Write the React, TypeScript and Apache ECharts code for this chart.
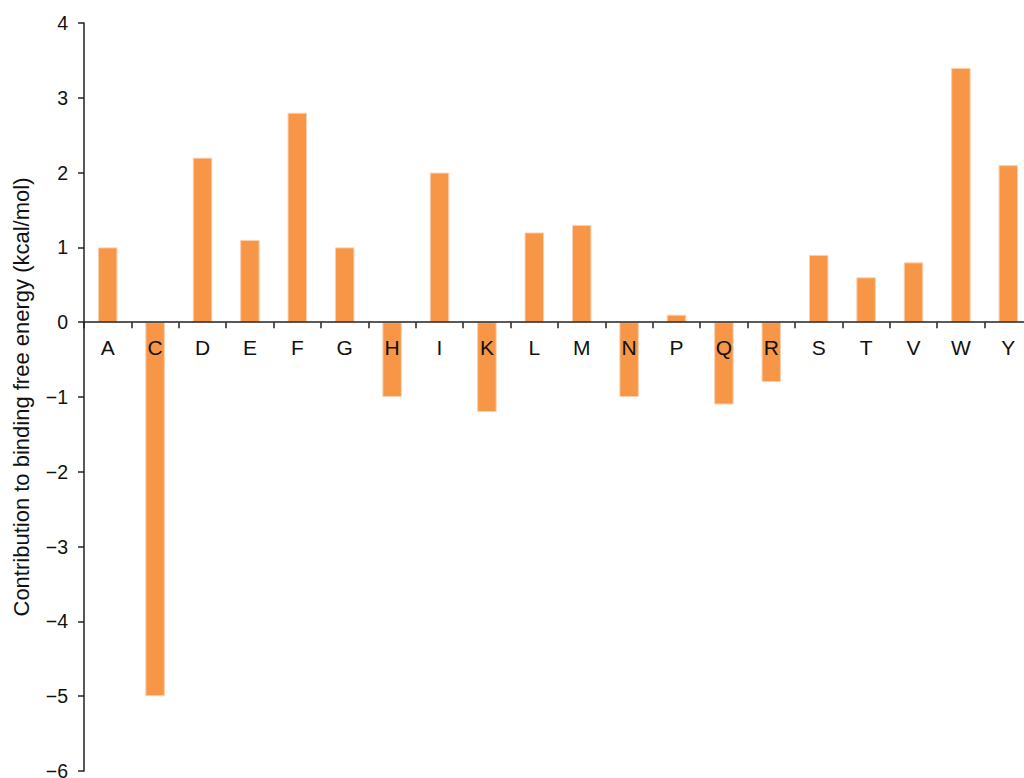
import React, { useEffect, useRef } from "react";
import * as echarts from "echarts";

const categories = ["A", "C", "D", "E", "F", "G", "H", "I", "K", "L", "M", "N", "P", "Q", "R", "S", "T", "V", "W", "Y"];
const values = [1.0, -5.0, 2.2, 1.1, 2.8, 1.0, -1.0, 2.0, -1.2, 1.2, 1.3, -1.0, 0.1, -1.1, -0.8, 0.9, 0.6, 0.8, 3.4, 2.1];
const yAxisTitle = "Contribution to binding free energy (kcal/mol)";
const yMin = -6;
const yMax = 4;

export default function App() {
  const ref = useRef<HTMLDivElement>(null);
  useEffect(() => {
    if (!ref.current) return;
    const chart = echarts.init(ref.current, null, { renderer: "svg" });
    const font = "'Liberation Sans', Arial, sans-serif";
    const gridTop = 23;
    const gridHeight = 748;
    const zeroOffset = -(gridHeight * (0 - yMin)) / (yMax - yMin);
    chart.setOption({
      animation: false,
      backgroundColor: "#ffffff",
      grid: { left: 84, top: gridTop, width: 948, height: gridHeight, containLabel: false, outerBoundsMode: "none" },
      xAxis: {
        type: "category",
        data: categories,
        z: 10,
        position: "bottom",
        offset: zeroOffset,
        axisLine: { onZero: false, lineStyle: { color: "#222", width: 1.5 } },
        axisTick: { show: true, length: 6, inside: false, alignWithLabel: false, lineStyle: { color: "#222", width: 1.5 } },
        axisLabel: { color: "#111", fontSize: 21, fontFamily: font, margin: 15, interval: 0 },
        splitLine: { show: false },
      },
      yAxis: {
        type: "value",
        min: yMin,
        max: yMax,
        interval: 1,
        name: yAxisTitle,
        nameLocation: "middle",
        nameGap: 52,
        nameTextStyle: { color: "#111", fontSize: 22, fontFamily: font },
        axisLine: { show: true, lineStyle: { color: "#222", width: 1.5 } },
        axisTick: { show: true, length: 6, lineStyle: { color: "#222", width: 1.5 } },
        axisLabel: {
          color: "#111",
          fontSize: 19.5,
          lineHeight: 14,
          fontFamily: font,
          margin: 16,
          formatter: (v: number) => (v < 0 ? "\u2212" + Math.abs(v) : String(v)),
        },
        splitLine: { show: false },
      },
      series: [
        {
          type: "bar",
          data: values,
          barWidth: 19.5,
          itemStyle: { color: "#F79646", borderColor: "#FAD0AE", borderWidth: 1 },
        },
      ],
    });
    return () => chart.dispose();
  }, []);
  return (
    <div style={{ position: "absolute", left: 0, top: 0, width: 1024, height: 778, overflow: "hidden", background: "#fff" }}>
      <div ref={ref} style={{ width: 1040, height: 778 }} />
    </div>
  );
}
